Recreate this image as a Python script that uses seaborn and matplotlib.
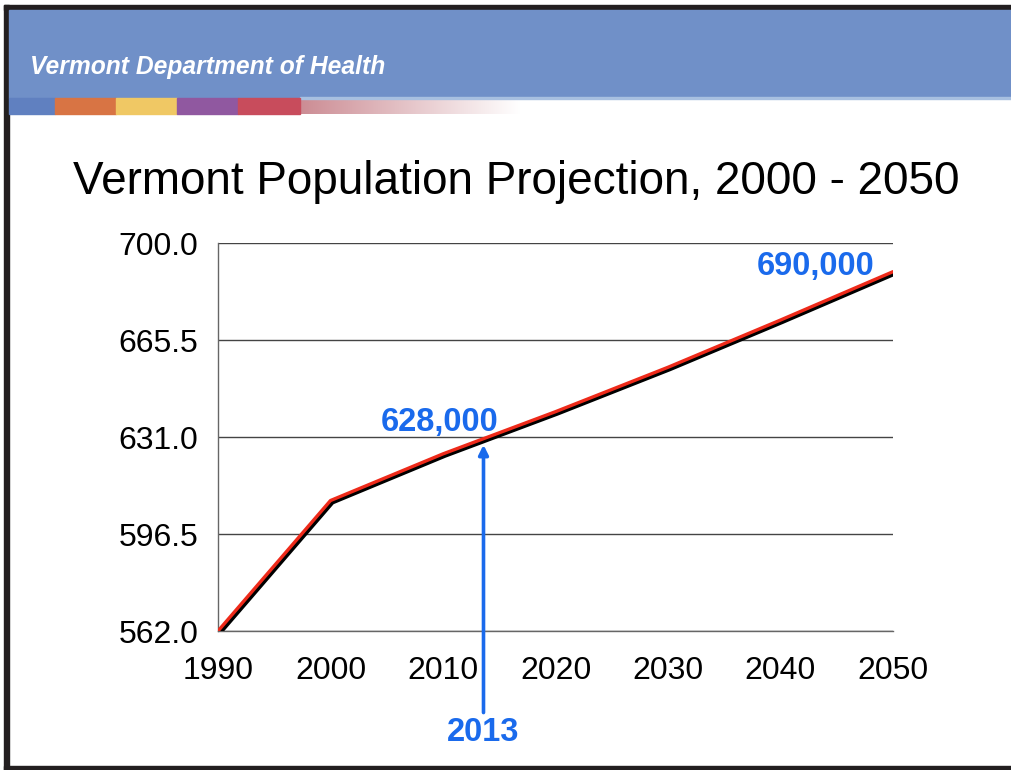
import numpy as np
import matplotlib
matplotlib.use("Agg")
import matplotlib.pyplot as plt
import matplotlib.patheffects as pe
from matplotlib.patches import Rectangle
import seaborn as sns

years = [1990, 2000, 2010, 2020, 2030, 2040, 2050]
population = [562.0, 608.4, 625.0, 640.0, 655.8, 672.6, 689.8]  # thousands
y_ticks = [562.0, 596.5, 631.0, 665.5, 700.0]
x_ticks = [1990, 2000, 2010, 2020, 2030, 2040, 2050]
marker_year = 2013
marker_value = 628.0
end_label = "690,000"
mid_label = "628,000"

sns.set_style("white")
plt.rcParams["font.family"] = ["Liberation Sans", "DejaVu Sans"]

W, H = 1011, 770
fig = plt.figure(figsize=(W / 100, H / 100), dpi=100)

# slide decoration layer in pixel coords
deco = fig.add_axes([0, 0, 1, 1])
deco.set_xlim(0, W)
deco.set_ylim(H, 0)
deco.axis("off")
deco.add_patch(Rectangle((4, 5), W, 5, color="#231f20"))
deco.add_patch(Rectangle((4, 5), 5, H, color="#231f20"))
deco.add_patch(Rectangle((4, 766), W, 5, color="#231f20"))
deco.add_patch(Rectangle((9, 10), W, 88, color="#7090c8"))
deco.add_patch(Rectangle((300, 97), W, 1.5, color="#a8c0e0"))
strip = [(9, 55, "#6080c0"), (55, 116, "#d87444"), (116, 177, "#f0c864"),
         (177, 238, "#9058a0"), (238, 300, "#c84c5c")]
for x0, x1, c in strip:
    deco.add_patch(Rectangle((x0, 98), x1 - x0, 16, color=c))
grad = np.linspace(0, 1, 256)
c0 = np.array([0.80, 0.55, 0.58])
img = c0[None, :] * (1 - grad[:, None]) + np.ones(3)[None, :] * grad[:, None]
deco.imshow(img[None, :, :], extent=(300, 520, 114, 98), aspect="auto")
deco.text(30, 67, "Vermont Department of Health", color="white", fontsize=17.7,
          fontweight="bold", fontstyle="italic", va="center", ha="left")
deco.text(516, 182, "Vermont Population Projection, 2000 - 2050", fontsize=33,
          ha="center", va="center", color="black")

# chart
ax = fig.add_axes([218 / W, (H - 631) / H, 675 / W, 388 / H])
ax.set_facecolor("none")
sns.lineplot(x=years, y=population, ax=ax, color="#ee2a1a", lw=2.4,
             path_effects=[pe.SimpleLineShadow(offset=(1.4, -1.4), shadow_color="black",
                                               alpha=1, linewidth=2.9),
                           pe.Normal()],
             zorder=5)
ax.set_xlim(1990, 2050)
ax.set_ylim(562, 700)
ax.set_xticks(x_ticks)
ax.set_yticks(y_ticks)
ax.set_yticklabels([f"{v:.1f}" for v in y_ticks])
ax.grid(axis="y", color="#444444", lw=1)
ax.grid(axis="x", visible=False)
for s in ["top", "right"]:
    ax.spines[s].set_visible(False)
for s in ["left", "bottom"]:
    ax.spines[s].set_color("#666666")
    ax.spines[s].set_linewidth(1)
ax.tick_params(axis="x", direction="out", length=4, color="#666666", pad=14,
               labelsize=23, labelcolor="black")
ax.tick_params(axis="y", length=0, pad=14, labelsize=23, labelcolor="black")
ax.set_xlabel("")
ax.set_ylabel("")

blue = "#1a6aec"
arrow_x = 2013.6
ax.annotate("", xy=(arrow_x, marker_value + 1.2), xytext=(arrow_x, 532),
            arrowprops=dict(arrowstyle="-|>", color=blue, lw=2.6, mutation_scale=14),
            annotation_clip=False, zorder=6)
ax.text(arrow_x, 526, str(marker_year), color=blue, fontsize=23.5,
        fontweight="bold", ha="center", va="center", clip_on=False)
ax.text(2009.7, 636.3, mid_label, color=blue, fontsize=23.5, fontweight="bold",
        ha="center", va="center")
ax.text(2043.1, 691.5, end_label, color=blue, fontsize=23.5, fontweight="bold",
        ha="center", va="center")

fig.savefig("out.png", dpi=100)
